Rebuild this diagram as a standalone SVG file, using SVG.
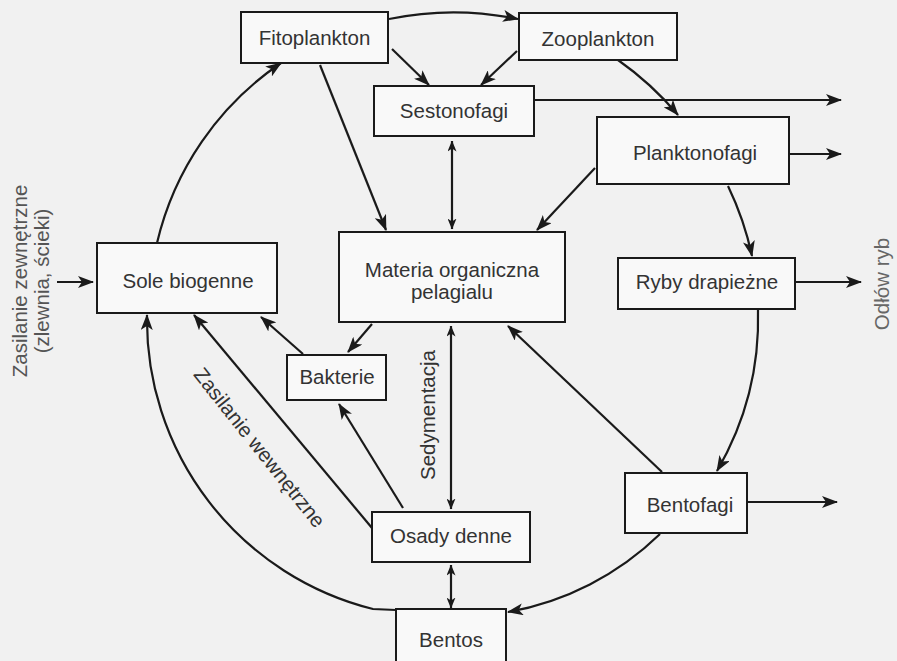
<svg xmlns="http://www.w3.org/2000/svg" width="897" height="661" viewBox="0 0 897 661">
<defs>
<style>
.box{fill:#f9f9f9;stroke:#1a1a1a;stroke-width:2}
.lbl{font-family:"Liberation Sans",Arial,sans-serif;font-size:20.5px;fill:#333;text-anchor:middle}
.side{font-family:"Liberation Sans",Arial,sans-serif;font-size:20.5px;fill:#555;text-anchor:middle}
.con{fill:none;stroke:#1a1a1a;stroke-width:2.2}
.one{marker-end:url(#ah)}
.two{marker-end:url(#sh);marker-start:url(#shs)}
</style>
<marker id="ah" viewBox="0 0 16 12" refX="15" refY="6" markerWidth="16" markerHeight="12" markerUnits="userSpaceOnUse" orient="auto">
<path d="M0,0 L16,6 L0,12 L4,6 z" fill="#1a1a1a"/>
</marker>
<marker id="sh" viewBox="0 0 11 9" refX="10.5" refY="4.5" markerWidth="11" markerHeight="9" markerUnits="userSpaceOnUse" orient="auto">
<path d="M0,0 L11,4.5 L0,9 L3,4.5 z" fill="#1a1a1a"/>
</marker>
<marker id="shs" viewBox="0 0 11 9" refX="10.5" refY="4.5" markerWidth="11" markerHeight="9" markerUnits="userSpaceOnUse" orient="auto-start-reverse">
<path d="M0,0 L11,4.5 L0,9 L3,4.5 z" fill="#1a1a1a"/>
</marker>
</defs>
<rect width="897" height="661" fill="#f1f1f1"/>
<g id="connectors">
<path class="con one" d="M389,19 A317,317 0 0 1 518,19"/>
<path class="con one" d="M618,60 A315,315 0 0 1 678,115"/>
<path class="con one" d="M728,186 A310,310 0 0 1 752,256"/>
<path class="con one" d="M758,310 A303,303 0 0 1 717,471"/>
<path class="con one" d="M660,534 A291,291 0 0 1 508,612"/>
<path class="con one" d="M396,610 L373,609 A298,298 0 0 1 147,315"/>
<path class="con one" d="M157,243 A300,300 0 0 1 281,63"/>
<path class="con one" d="M392,49 L429,85"/>
<path class="con one" d="M517,51 L481,85"/>
<path class="con one" d="M320,65 L386,230"/>
<path class="con two" d="M452,141 L452,229"/>
<path class="con one" d="M595,168 L537,230"/>
<path class="con one" d="M372,324 L348,352"/>
<path class="con one" d="M303,354 L261,317"/>
<path class="con one" d="M403,508 L339,404"/>
<path class="con one" d="M372,528 L194,315"/>
<path class="con two" d="M451,326 L451,509"/>
<path class="con two" d="M451,565 L451,608"/>
<path class="con one" d="M662,472 L508,326"/>
<path class="con one" d="M534,100 L841,100"/>
<path class="con one" d="M789,154 L841,154"/>
<path class="con one" d="M795,282 L861,282"/>
<path class="con one" d="M747,502 L837,502"/>
<path class="con one" d="M57,282 L93,282"/>
</g>
<g id="fitoplankton"><rect class="box" x="241" y="12" width="147" height="51"/><text class="lbl" x="314.5" y="44.5">Fitoplankton</text></g>
<g id="zooplankton"><rect class="box" x="519" y="13" width="158" height="47"/><text class="lbl" x="598" y="46">Zooplankton</text></g>
<g id="sestonofagi"><rect class="box" x="374" y="86" width="160" height="50"/><text class="lbl" x="454" y="117.5">Sestonofagi</text></g>
<g id="planktonofagi"><rect class="box" x="597" y="117" width="192" height="67"/><text class="lbl" x="695" y="160">Planktonofagi</text></g>
<g id="ryby"><rect class="box" x="618" y="258" width="177" height="51"/><text class="lbl" x="707" y="289">Ryby drapieżne</text></g>
<g id="sole"><rect class="box" x="97" y="243" width="180" height="70"/><text class="lbl" x="188" y="288">Sole biogenne</text></g>
<g id="materia"><rect class="box" x="339" y="232" width="226" height="90"/><text class="lbl" x="452" y="277">Materia organiczna</text><text class="lbl" x="452" y="299">pelagialu</text></g>
<g id="bakterie"><rect class="box" x="287" y="355" width="99" height="45"/><text class="lbl" x="337" y="384">Bakterie</text></g>
<g id="osady"><rect class="box" x="372" y="512" width="158" height="50"/><text class="lbl" x="451" y="543">Osady denne</text></g>
<g id="bentos"><rect class="box" x="396" y="609" width="110" height="62"/><text class="lbl" x="451" y="647">Bentos</text></g>
<g id="bentofagi"><rect class="box" x="625" y="473" width="122" height="60"/><text class="lbl" x="690" y="512">Bentofagi</text></g>
<g id="labels">
<text class="side" transform="translate(27,281) rotate(-90)">Zasilanie zewnętrzne</text>
<text class="side" transform="translate(49,281) rotate(-90)">(zlewnia, ścieki)</text>
<text class="side" transform="translate(889,284) rotate(-90)" style="fill:#666">Odłów ryb</text>
<text class="lbl" transform="translate(435,415) rotate(-90)">Sedymentacja</text>
<text class="lbl" transform="translate(254,452) rotate(51.5)">Zasilanie wewnętrzne</text>
</g>
</svg>
